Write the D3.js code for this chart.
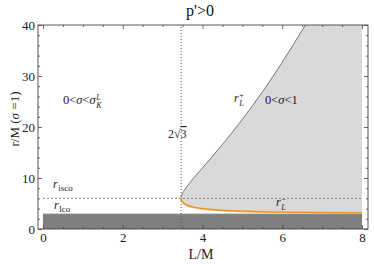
<!DOCTYPE html>
<html><head><meta charset="utf-8">
<script src="https://cdn.jsdelivr.net/npm/d3@7"></script>
<style>html,body{margin:0;padding:0;background:#fff;}svg{display:block;}svg text{font-family:'Liberation Serif','Times New Roman','DejaVu Serif',serif;}</style>
</head><body>
<svg id="c" width="374" height="264" font-family="Liberation Serif, serif"></svg>
<script>
// ---- data ----
const xTicks = [0, 2, 4, 6, 8];
const yTicks = [0, 10, 20, 30, 40];
const xMinor = [0.5, 1, 1.5, 2.5, 3, 3.5, 4.5, 5, 5.5, 6.5, 7, 7.5];
const yMinor = [2, 4, 6, 8, 12, 14, 16, 18, 22, 24, 26, 28, 32, 34, 36, 38];
// upper branch r_L^+
const Lplus = [3.464, 3.465, 3.47, 3.48, 3.5, 3.6, 3.8, 4.0, 4.25, 4.5, 4.75, 5.0, 5.5, 6.0, 6.5, 6.58];
const rPlus = [6.0, 6.14, 6.37, 6.63, 7.0, 8.24, 10.19, 12.0, 14.26, 16.59, 19.0, 21.51, 26.87, 32.7, 39.0, 40.0];
// lower branch r_L^-
const Lminus = [3.464, 3.465, 3.47, 3.48, 3.5, 3.6, 3.8, 4.0, 4.25, 4.5, 4.75, 5.0, 5.5, 6.0, 6.5, 7.0, 7.5, 8.0];
const rMinus = [6.0, 5.87, 5.67, 5.48, 5.25, 4.72, 4.25, 4.0, 3.80, 3.66, 3.56, 3.49, 3.38, 3.30, 3.25, 3.21, 3.18, 3.155];
const Lcrit = 3.464;   // 2√3
const rIsco = 6;
const rLco = 3;
const Lmax = 8;
const rTop = 40;

const FONT = "Liberation Serif, Times New Roman, serif";

// ---- scales ----
const svg = d3.select("#c");
const x = d3.scaleLinear().domain([-0.125, 8.15]).range([38, 368]);
const y = d3.scaleLinear().domain([0, 40]).range([229, 25]);

// light gray region between branches
const upper = Lplus.map((L, i) => [L, rPlus[i]]);
const lower = Lminus.map((L, i) => [L, rMinus[i]]);
const regionPts = upper.concat([[Lmax, rTop]], lower.slice().reverse());
svg.append("path")
  .attr("d", d3.line().x(d => x(d[0])).y(d => y(d[1]))(regionPts))
  .attr("fill", "#d9d9d9").attr("stroke", "none");

// dark band r < r_lco
svg.append("rect")
  .attr("x", x(0)).attr("y", y(rLco))
  .attr("width", x(Lmax) - x(0)).attr("height", y(0) - y(rLco))
  .attr("fill", "#7f7f7f");
svg.append("line")
  .attr("x1", x(0)).attr("x2", x(Lmax)).attr("y1", y(rLco)).attr("y2", y(rLco))
  .attr("stroke", "#c8c8c8").attr("stroke-width", 0.8).attr("stroke-dasharray", "2,1");

// dotted r_isco line
svg.append("line")
  .attr("x1", x(0)).attr("x2", x(Lmax)).attr("y1", y(rIsco)).attr("y2", y(rIsco))
  .attr("stroke", "#8a8a8a").attr("stroke-width", 1).attr("stroke-dasharray", "2,2");

// vertical dotted line at 2√3
svg.append("line")
  .attr("x1", x(Lcrit)).attr("x2", x(Lcrit)).attr("y1", y(0)).attr("y2", y(40))
  .attr("stroke", "#555").attr("stroke-width", 1).attr("stroke-dasharray", "1,2");

// upper curve
svg.append("path")
  .attr("d", d3.line().x(d => x(d[0])).y(d => y(d[1])).curve(d3.curveMonotoneY)(upper))
  .attr("fill", "none").attr("stroke", "#5a5a5a").attr("stroke-width", 0.8);

// lower curve (orange)
const lowerD = d3.line().x(d => x(d[0])).y(d => y(d[1])).curve(d3.curveMonotoneX)(lower);
svg.append("path").attr("d", lowerD)
  .attr("fill", "none").attr("stroke", "#f3c68a").attr("stroke-width", 2.4);
svg.append("path").attr("d", lowerD)
  .attr("fill", "none").attr("stroke", "#e8901e").attr("stroke-width", 1.2);

// ---- frame & axes ----
svg.append("rect").attr("x", 38).attr("y", 25).attr("width", 330).attr("height", 204)
  .attr("fill", "none").attr("stroke", "#444").attr("stroke-width", 0.9);

function styleAxis(g) {
  g.attr("font-family", FONT);
  g.select(".domain").remove();
  g.selectAll(".tick line").attr("stroke", "#444").attr("stroke-width", 0.8);
  g.selectAll("text").attr("font-family", FONT).attr("font-size", 13).attr("fill", "#222");
}
svg.append("g").attr("transform", "translate(0,229)")
  .call(d3.axisBottom(x).tickValues(xTicks).tickSize(-4).tickPadding(4).tickFormat(d3.format("d"))).call(styleAxis);
svg.append("g").attr("transform", "translate(0,229)")
  .call(d3.axisBottom(x).tickValues(xMinor).tickSize(-2).tickFormat("")).call(styleAxis);
svg.append("g").attr("transform", "translate(0,25)")
  .call(d3.axisBottom(x).tickValues(xTicks).tickSize(4).tickFormat("")).call(styleAxis);
svg.append("g").attr("transform", "translate(0,25)")
  .call(d3.axisBottom(x).tickValues(xMinor).tickSize(2).tickFormat("")).call(styleAxis);
svg.append("g").attr("transform", "translate(38,0)")
  .call(d3.axisLeft(y).tickValues(yTicks).tickSize(-4).tickPadding(3).tickFormat(d3.format("d"))).call(styleAxis);
svg.append("g").attr("transform", "translate(38,0)")
  .call(d3.axisLeft(y).tickValues(yMinor).tickSize(-2).tickFormat("")).call(styleAxis);
svg.append("g").attr("transform", "translate(368,0)")
  .call(d3.axisLeft(y).tickValues(yTicks).tickSize(4).tickFormat("")).call(styleAxis);
svg.append("g").attr("transform", "translate(368,0)")
  .call(d3.axisLeft(y).tickValues(yMinor).tickSize(2).tickFormat("")).call(styleAxis);

// ---- titles ----
svg.append("text").attr("x", 200).attr("y", 16).attr("text-anchor", "middle").attr("font-family", FONT)
  .attr("font-size", 16).attr("fill", "#111").text("p'>0");
svg.append("text").attr("x", 201).attr("y", 259).attr("text-anchor", "middle").attr("font-family", FONT)
  .attr("font-size", 14).attr("fill", "#222").text("L/M");
const yl = svg.append("text").attr("transform", "translate(19,119) rotate(-90)").attr("font-family", FONT)
  .attr("text-anchor", "middle").attr("font-size", 13).attr("fill", "#222");
yl.append("tspan").text("r/M  (");
yl.append("tspan").attr("font-style", "italic").text("σ");
yl.append("tspan").text(" =1)");

// ---- annotations ----
function rLabel(px, py, sub, sup) {
  const t = svg.append("text").attr("x", px).attr("y", py).attr("font-size", 12)
    .attr("font-family", FONT).attr("fill", "#222");
  t.append("tspan").attr("font-style", "italic").text("r");
  if (sup) {
    t.append("tspan").attr("font-size", 8).attr("dy", -4).attr("dx", 0.5).text(sup);
    t.append("tspan").attr("font-size", 8).attr("font-style", "italic").attr("dy", 7.5).attr("dx", -4.5).text(sub);
  } else {
    t.append("tspan").attr("font-size", 9).attr("dy", 3).attr("dx", 0.5).text(sub);
  }
}
rLabel(53, 188, "isco", null);
rLabel(54, 209, "lco", null);
rLabel(234, 102, "L", "+");
rLabel(276, 206, "L", "−");

function sigmaLabel(px, py, tail) {
  const t = svg.append("text").attr("x", px).attr("y", py).attr("font-size", 12.5)
    .attr("font-family", FONT).attr("fill", "#222");
  t.append("tspan").text("0<");
  t.append("tspan").attr("font-style", "italic").text("σ");
  t.append("tspan").text("<");
  if (tail === "1") { t.append("tspan").text("1"); return; }
  t.append("tspan").attr("font-style", "italic").text("σ");
  t.append("tspan").attr("font-size", 8).attr("font-style", "italic").attr("dy", -4).attr("dx", 0.5).text("L");
  t.append("tspan").attr("font-size", 8).attr("font-style", "italic").attr("dy", 7.5).attr("dx", -4.5).text("K");
}
sigmaLabel(63, 104, "K");
sigmaLabel(265, 104, "1");

// 2√3 label
const tl = svg.append("text").attr("x", 168).attr("y", 138).attr("font-size", 12)
  .attr("font-family", FONT).attr("fill", "#222");
tl.append("tspan").text("2√");
tl.append("tspan").attr("text-decoration", "overline").text("3");
</script>
</body></html>
